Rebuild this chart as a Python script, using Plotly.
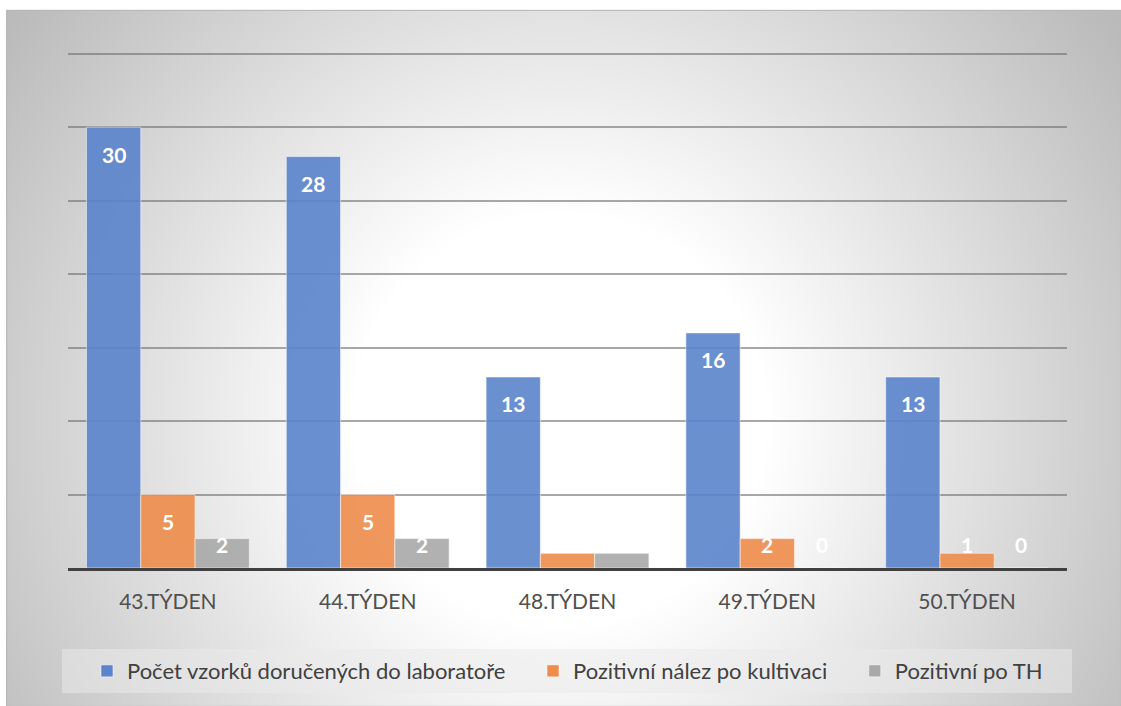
import base64
import plotly.graph_objects as go

categories = ["43.TÝDEN", "44.TÝDEN", "48.TÝDEN", "49.TÝDEN", "50.TÝDEN"]
series_names = ["Počet vzorků doručených do laboratoře", "Pozitivní nález po kultivaci", "Pozitivní po TH"]
vzorky = [30, 28, 13, 16, 13]
kultivace = [5, 5, 1, 2, 1]
th = [2, 2, 1, 0, 0]
# data labels shown in the reference (None = label not shown)
labels_vzorky = ["30", "28", "13", "16", "13"]
labels_kultivace = ["5", "5", None, "2", "1"]
labels_th = ["2", "2", None, "0", "0"]

colors = ["#5B84CC", "#EE8C4B", "#A9A9A9"]
W, H = 1121, 706
YMAX = 35
YTOP = 36  # headroom so the top gridline (35) is drawn
PX_PER_UNIT = 514 / YMAX
ML, MR, MB = 68, 54, 138
MT = 54 - (YTOP - YMAX) * PX_PER_UNIT
PW, PH = W - ML - MR, H - MT - MB
BARGAP = 0.185
FONT = "Lato"
PAD = "\u00a0" * 4  # extra spacing between legend entries

fig = go.Figure()
all_vals = [vzorky, kultivace, th]
all_labels = [labels_vzorky, labels_kultivace, labels_th]
for k, (name, vals, col) in enumerate(zip(series_names, all_vals, colors)):
    fig.add_trace(go.Bar(
        x=categories, y=vals, name=name + (PAD if k < 2 else ""),
        marker=dict(color=col, opacity=0.9, line=dict(color="rgba(255,255,255,0.55)", width=1)),
        hovertemplate=name + "<br>%{x}: %{y}<extra></extra>",
    ))

# data labels: inside end, clamped above the baseline
bw = (1 - BARGAP) / 3
annotations = []
for s, (vals, labs) in enumerate(zip(all_vals, all_labels)):
    off = (s - 1) * bw
    for i, (v, lab) in enumerate(zip(vals, labs)):
        if lab is None:
            continue
        if v * PX_PER_UNIT - 27 > 24:
            y, ys = v, -27
        else:
            y, ys = 0, 24
        annotations.append(dict(
            x=i + off, y=y, xref="x", yref="y", text=lab, showarrow=False,
            yshift=ys, yanchor="middle", xanchor="center",
            font=dict(family=FONT, size=21, color="white", weight="bold"),
        ))

# background radial gradient as an SVG image
fx0, fy0 = 6, 10
fw, fh = W - fx0, H - fy0
svg = f'''<svg xmlns="http://www.w3.org/2000/svg" width="{fw}" height="{fh}" viewBox="0 0 {fw} {fh}" preserveAspectRatio="none">
<defs><radialGradient id="g" gradientUnits="userSpaceOnUse" cx="{560-fx0}" cy="{420-fy0}" r="680">
<stop offset="0" stop-color="#ffffff"/><stop offset="0.3" stop-color="#ffffff"/><stop offset="1" stop-color="#bababa"/>
</radialGradient></defs>
<rect x="0" y="0" width="{fw}" height="{fh}" fill="url(#g)"/>
<rect x="0.5" y="0.5" width="{fw}" height="{fh}" fill="none" stroke="#b8b8b8" stroke-width="1.5"/>
</svg>'''
src = "data:image/svg+xml;base64," + base64.b64encode(svg.encode()).decode()

def px2paper_x(px):
    return (px - ML) / PW

def px2paper_y(py):
    return (H - MB - py) / PH

fig.add_layout_image(dict(
    source=src, xref="paper", yref="paper",
    x=px2paper_x(fx0), y=px2paper_y(fy0),
    sizex=fw / PW, sizey=fh / PH, sizing="stretch",
    xanchor="left", yanchor="top", layer="below",
))

# legend box
fig.add_shape(type="rect", xref="paper", yref="paper",
              x0=px2paper_x(62), x1=px2paper_x(1072), y0=px2paper_y(693), y1=px2paper_y(649),
              fillcolor="rgba(235,235,235,0.53)", line=dict(width=0), layer="below")

fig.update_layout(
    width=W, height=H,
    margin=dict(l=ML, r=MR, t=MT, b=MB, pad=0),
    paper_bgcolor="white", plot_bgcolor="rgba(0,0,0,0)",
    barmode="group", bargap=BARGAP, bargroupgap=0,
    showlegend=True,
    legend=dict(orientation="h", x=0.5, xanchor="center", y=px2paper_y(671), yanchor="middle",
                font=dict(family=FONT, size=22, color="#404040"), bgcolor="rgba(0,0,0,0)",
                traceorder="normal"),
    annotations=annotations,
    font=dict(family=FONT),
)
fig.update_xaxes(type="category", showline=True, linecolor="#404040", linewidth=3,
                 ticks="", tickfont=dict(family=FONT, size=21, color="#505050"),
                 ticklabelstandoff=13, showgrid=False, zeroline=False, fixedrange=True)
fig.update_yaxes(range=[0, YTOP], tickvals=[0, 5, 10, 15, 20, 25, 30, 35], showticklabels=False,
                 showgrid=True, gridcolor="rgba(110,110,110,0.6)", gridwidth=2, zeroline=False,
                 showline=False, fixedrange=True)

fig.write_html("out.html")
